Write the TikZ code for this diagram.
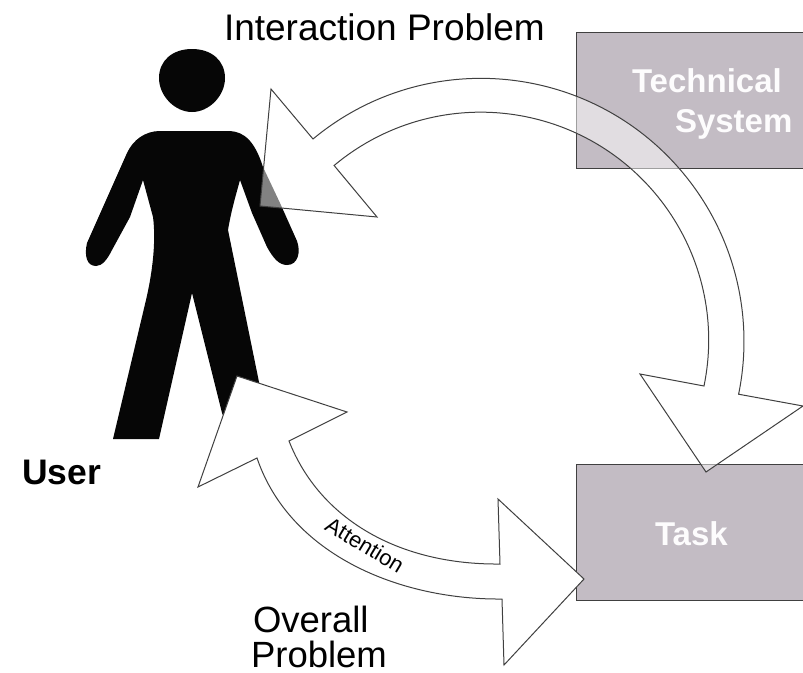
\documentclass[tikz,border=0pt]{standalone}
\usepackage{fontspec}
\setmainfont{Liberation Sans}
\definecolor{boxfill}{HTML}{C3BCC4}
\definecolor{edge}{HTML}{404040}
\definecolor{ink}{HTML}{060606}
\tikzset{
  boxshape/.style={draw=edge,line width=1pt,fill=boxfill},
  arrowshape/.style={draw=edge,line width=1pt,line join=miter},
  lbl/.style={anchor=base west,inner sep=0pt,outer sep=0pt},
  biglbl/.style={lbl,font=\fontsize{36.5}{36.5}\selectfont},
  boxlbl/.style={lbl,text=white!96!boxfill,font=\fontsize{33}{33}\selectfont\bfseries}
}
\begin{document}
\begin{tikzpicture}[x=1pt,y=-1pt]
\useasboundingbox (0,0) rectangle (803,672);
\fill[white] (0,0) rectangle (803,672);
% person
\fill[ink] (192,49) .. controls (212,49) and (225,61) .. (225,78)
  .. controls (225,96) and (209,112) .. (192,112)
  .. controls (175,112) and (159,96) .. (159,78)
  .. controls (159,61) and (172,49) .. (192,49) -- cycle;
\fill[ink] (160,131) -- (230,131)
  .. controls (245,132) and (255,142) .. (263,167)
  -- (280,203) -- (297,241)
  .. controls (301,252) and (298,265) .. (287,265)
  .. controls (279,265) and (273,258) .. (267,247)
  -- (252,213) -- (240,180)
  .. controls (235,198) and (231,212) .. (228,230)
  -- (259,382) -- (268,425) -- (232,437) -- (222,413) -- (192,293)
  -- (159,439) -- (113,439) -- (146,300)
  .. controls (153,270) and (156,240) .. (153,217)
  -- (143,180)
  -- (130,217) -- (112,250)
  .. controls (107,260) and (102,266) .. (96,266)
  .. controls (87,266) and (84,256) .. (87,243)
  -- (127,153)
  .. controls (133,140) and (145,131) .. (160,131) -- cycle;
% boxes
\node[boxshape,anchor=north west,minimum width=230pt,minimum height=136pt,inner sep=0pt] (system) at (576,32) {};
\node[boxshape,anchor=north west,minimum width=230pt,minimum height=136pt,inner sep=0pt] (task) at (576,464) {};
% labels
\node[lbl,font=\fontsize{37}{37}\selectfont] (interaction) at (224,40) {Interaction Problem};
\node[biglbl] (overall) at (253,632) {Overall};
\node[biglbl] (problem) at (251,667) {Problem};
\node[lbl,font=\fontsize{35.5}{35.5}\selectfont\bfseries] (user) at (22,484) {User};
\node[boxlbl] (technical) at (632,92) {Technical};
\node[boxlbl] (systemtext) at (675,132) {System};
\node[boxlbl] (tasktext) at (655,545) {Task};
% big circular arrow
\coordinate (c) at (480,340);
\path[fill=white,fill opacity=0.5]
  (260,206) -- (271,89) -- (313,139) arc[start angle=230.3,end angle=371.6,radius=263]
  -- (803,406) -- (706,472) -- (640,374) -- (704,386)
  arc[start angle=371.6,end angle=230,radius=228] -- (377,217) -- cycle;
\draw[arrowshape]
  (260,206) -- (271,89) -- (313,139) arc[start angle=230.3,end angle=371.6,radius=263]
  -- (803,406) -- (706,472) -- (640,374) -- (704,386)
  arc[start angle=371.6,end angle=230,radius=228] -- (377,217) -- cycle;
% attention arrow
\draw[arrowshape,fill=white]
  (237,376) -- (347,412) -- (289,441)
  .. controls (320,520) and (400,565) .. (500,564)
  -- (498,499) -- (584,579) -- (504,665) -- (502,599)
  .. controls (400,600) and (290,555) .. (257,458)
  -- (198,487) -- cycle;
\node[inner sep=0pt,rotate=-31,font=\fontsize{22}{22}\selectfont] (attention) at (365,545) {Attention};
\end{tikzpicture}
\end{document}
